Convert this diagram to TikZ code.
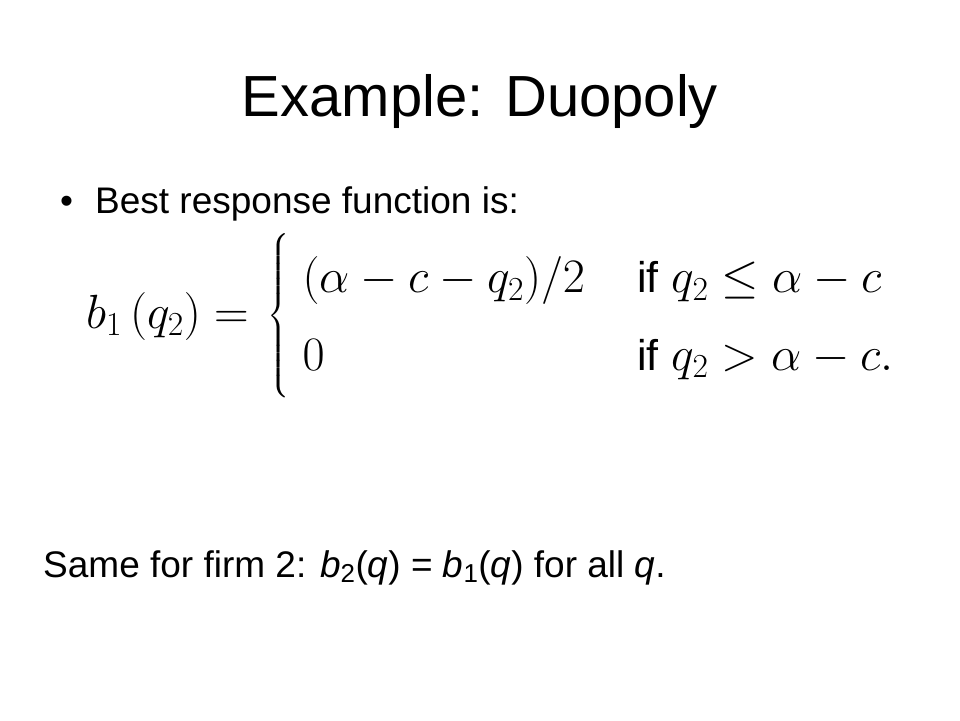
\RequirePackage{fix-cm}
\documentclass[tikz,border=0pt]{standalone}
\usepackage{amsmath}
\usepackage{fontspec}
\setmainfont{Liberation Sans}

\tikzset{
  slidetitle/.style={anchor=base,inner sep=0pt,font=\fontsize{58}{70}\selectfont},
  bodytext/.style={anchor=base west,inner sep=0pt,font=\fontsize{37}{44}\selectfont},
  formula/.style={anchor=west,inner sep=0pt,font=\fontsize{48}{57.6}\selectfont}
}
\newcommand{\ifword}{\text{\fontsize{43}{50}\selectfont if}}

\begin{document}
\begin{tikzpicture}[x=1pt,y=-1pt]

    % Slide frame (960 x 720)
    \useasboundingbox (0,0) rectangle (960,720);
    \fill[white] (0,0) rectangle (960,720);

    %==========================
    % Title
    %==========================
    \node[slidetitle] (title) at (480,116) {Example: Duopoly};

    %==========================
    % Bullet
    %==========================
    \node[bodytext] (bullet) at (60,213) {\textbullet};
    \node[bodytext] (best) at (95,213) {Best response function is:};

    %==========================
    % Best response (array in a brace)
    %==========================
    % column gaps in pt = px here (1pt per pixel)
    \node[formula] (resp) at (86,316)
      {\renewcommand{\arraystretch}{1.34}%
       $b_1\mkern3mu(q_2)=\mkern2mu\left\{\begin{array}{@{\hspace{13pt}}l@{\hspace{52pt}}l@{}}
        (\alpha-c-q_2)/2 & \ifword\ q_2\le\alpha-c\\
        0 & \ifword\ q_2>\alpha-c.\end{array}\right.$};

    %==========================
    % Firm 2
    %==========================
    \node[bodytext] (firm) at (43,577)
      {Same for firm 2: \textit{b}\textsubscript{2}(\textit{q}) = \textit{b}\textsubscript{1}(\textit{q}) for all \textit{q}.};

  \end{tikzpicture}
\end{document}
